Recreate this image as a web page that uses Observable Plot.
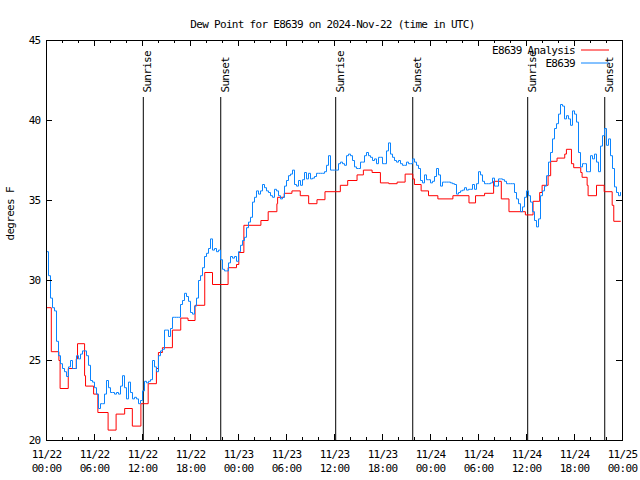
<!DOCTYPE html>
<html><head><meta charset="utf-8">
<script src="https://cdn.jsdelivr.net/npm/d3@7"></script>
<script src="https://cdn.jsdelivr.net/npm/@observablehq/plot@0.6"></script>
<style>
body{margin:0;background:#fff}
svg text{letter-spacing:-0.7px}
</style>
</head><body><div id="chart"></div>
<script>
// ---- data ----
const titleText = "Dew Point for E8639 on 2024-Nov-22 (time in UTC)";
const yLabel = "degrees F";
const seriesNames = ["E8639 Analysis", "E8639"];
const seriesColors = ["#ff0000", "#0a84ff"];
const startUTC = [2024, 10, 22];           // 11/22 00:00 UTC
const obsStepHours = 0.25;                 // observations every 15 minutes
const obsValues = [
  31.8, 30.3, 28.9, 28.3, 28.1, 26.2, 25.3, 24.8, 24.5, 24.3, 24.0, 24.6, 25.0,
  24.5, 24.5, 25.3, 25.1, 25.4, 25.6, 25.6, 25.3, 24.7, 23.75, 23.65, 23.3, 22.9,
  22.0, 22.3, 22.3, 22.9, 23.75, 23.3, 23.0, 23.0, 22.9, 23.0, 22.9, 23.4, 24.05,
  23.3, 22.6, 23.65, 23.0, 22.6, 22.7, 22.6, 22.3, 22.5, 23.1,
  23.7, 23.6, 23.7, 23.8, 25.0, 24.6, 24.3, 25.3, 25.6, 25.7, 26.9, 26.9, 26.5, 27.0,
  27.7, 27.7, 27.7, 27.7, 28.5, 28.75, 29.2, 29.0, 28.7, 28.0, 27.9, 28.4, 28.9, 30.0,
  30.3, 30.8, 31.5, 31.7, 32.0, 32.6, 31.9, 32.0, 31.8, 31.9, 31.3, 30.7, 30.6, 30.6,
  31.1, 31.5, 31.4, 31.5, 31.2, 31.8,
  32.2, 32.5, 32.7, 33.3, 33.65, 33.95, 34.9, 35.2, 35.6, 35.4, 35.6, 36.0, 35.8, 35.6,
  35.5, 35.3, 35.2, 35.7, 35.6, 35.3, 35.1, 35.2, 35.9, 36.25, 36.55, 36.65, 36.9, 36.0,
  35.9, 36.25, 35.95, 36.3, 36.75, 36.35, 36.7, 36.35, 36.4, 36.5, 36.7, 36.7, 36.7,
  36.7, 36.8, 37.2, 37.8, 36.9, 36.9,
  36.9, 36.9, 37.3, 37.4, 37.3, 37.2, 37.8, 37.9, 37.8, 37.5, 37.1, 37.0, 37.0, 37.4,
  37.4, 37.8, 38.0, 37.8, 37.7, 37.5, 37.6, 37.3, 37.7, 37.7, 37.3, 37.3, 38.1, 38.6,
  37.9, 37.7, 37.5, 37.4, 37.5, 37.3, 37.2, 37.2, 37.4, 37.3, 37.3, 37.6, 37.4, 37.2,
  37.0, 36.25, 36.1, 36.6,
  36.3, 36.3, 36.1, 36.2, 36.5, 37.0, 36.6, 35.9, 36.15, 36.15, 36.15, 36.15, 36.1,
  36.05, 36.0, 35.4, 35.5, 35.6, 35.65, 35.8, 35.65, 35.7, 35.7, 36.0, 35.7, 36.05,
  36.8, 36.6, 36.2, 36.05, 36.05, 36.05, 36.1, 36.4, 35.9, 35.9, 36.35, 36.35, 36.3,
  36.2, 36.05, 36.05, 36.05, 36.05, 35.5, 35.1, 34.8, 34.3,
  34.6, 35.2, 35.6, 35.3, 34.9, 34.3, 33.75, 33.35, 33.85, 35.3, 35.6, 35.9, 36.55,
  37.4, 38.0, 38.85, 39.5, 39.8, 40.4, 41.0, 40.9, 40.1, 40.3, 40.1, 39.7, 40.6, 40.4,
  39.9, 38.0, 37.1, 37.3, 37.3, 36.8, 36.8, 37.8, 37.6, 37.9, 37.4, 36.8, 38.4, 39.05,
  39.5, 38.45, 38.85, 37.8, 37.0, 35.85, 35.5, 35.3, 35.5
];
const anaHours = [0, 0.6, 1.55, 1.7, 2.72, 3.72, 3.88, 4.76, 4.88, 5.89, 6.42, 7.7, 8.7,
  9.77, 10.73, 11.8, 12.71, 13.74, 13.99, 14.49, 15.74, 16.78, 17.69, 18.57, 19.78, 20.75,
  22.7, 23.75, 24.04, 24.67, 26.8, 27.71, 28.8, 28.89, 29.71, 30.68, 31.72, 32.77, 33.81,
  34.81, 36.73, 37.65, 38.82, 39.61, 40.7, 41.74, 42.79, 43.83, 44.83, 45.79, 45.99, 46.83,
  47.75, 48.92, 50.8, 52.81, 53.63, 54.76, 55.89, 56.85, 57.81, 59.86, 60.82, 61.65, 61.95,
  62.7, 63.02, 63.82, 64.78, 64.99, 65.62, 65.9, 66.78, 66.95, 67.58, 67.7, 68.75, 69.71,
  70.71, 70.91, 71.75];
const anaValues = [28.3, 25.55, 25.0, 23.25, 24.5, 25.1, 26.05, 24.05, 23.4, 22.9, 21.75,
  20.65, 21.65, 22.0, 20.9, 22.3, 23.55, 24.5, 25.5, 25.8, 26.9, 27.65, 27.5, 28.45, 30.5,
  29.75, 30.8, 31.0, 31.75, 33.45, 33.75, 34.3, 34.8, 35.2, 35.45, 35.6, 35.3, 34.8, 35.05,
  35.55, 35.95, 36.25, 36.6, 36.9, 36.75, 36.1, 36.05, 36.15, 36.65, 36.35, 36.0, 35.6,
  35.3, 35.1, 35.3, 34.85, 35.3, 35.45, 36.2, 35.1, 34.3, 34.1, 34.95, 35.5, 35.95, 36.55,
  37.45, 37.65, 37.9, 38.2, 37.3, 37.05, 36.75, 36.45, 35.95, 35.3, 35.95, 35.55, 34.7,
  33.7, 33.7];
const sunHours = [12.1, 21.78, 36.15, 45.78, 60.15, 69.78];
const sunLabels = ["Sunrise", "Sunset", "Sunrise", "Sunset", "Sunrise", "Sunset"];
const yTicks = [20, 25, 30, 35, 40, 45];
const xMajorHours = [0, 6, 12, 18, 24, 30, 36, 42, 48, 54, 60, 66, 72];
const xMinorHours = [2, 4, 8, 10, 14, 16, 20, 22, 26, 28, 32, 34, 38, 40, 44, 46, 50, 52, 56, 58, 62, 64, 68, 70];

// ---- build ----
const T0 = Date.UTC(...startUTC);
const toDate = h => new Date(T0 + h * 3600e3);
const obs = obsValues.map((v, i) => ({date: toDate(i * obsStepHours), value: v}));
const ana = anaHours.map((h, i) => ({date: toDate(h), value: anaValues[i]}));
const sun = sunHours.map((h, i) => ({date: toDate(h), label: sunLabels[i]}));
const xMajor = xMajorHours.map(toDate);
const xMinor = xMinorHours.map(toDate);
const fmt = d3.utcFormat("%m/%d\n%H:%M");

const W = 640, H = 480, ML = 46, MR = 18, MT = 40, MB = 40;
const FW = W - ML - MR, FH = H - MT - MB;

function legend() {
  const g = d3.create("svg:g");
  seriesNames.forEach((name, i) => {
    const y = 50 + i * 13;
    g.append("text").attr("x", W - MR - 47).attr("y", y).attr("dy", "0.35em")
      .attr("text-anchor", "end").attr("fill", "black").text(name);
    g.append("line").attr("x1", W - MR - 41).attr("x2", W - MR - 13)
      .attr("y1", y).attr("y2", y).attr("stroke", seriesColors[i]).attr("stroke-width", 1);
  });
  return g.node();
}

const chart = Plot.plot({
  width: W, height: H,
  marginLeft: ML, marginRight: MR, marginTop: MT, marginBottom: MB,
  style: {fontFamily: "'DejaVu Sans Mono', monospace", fontSize: "11px", color: "black", background: "white", overflow: "visible"},
  x: {type: "utc", domain: [toDate(0), toDate(72)], axis: null},
  y: {domain: [20, 45], axis: null},
  marks: [
    Plot.ruleX(sun, {x: "date", insetTop: 57, stroke: "black"}),
    Plot.text(sun, {x: "date", text: "label", frameAnchor: "top", dy: 52, rotate: -90, textAnchor: "start", fill: "black"}),
    Plot.line(ana, {x: "date", y: "value", stroke: seriesColors[0], strokeWidth: 1, curve: "step-after"}),
    Plot.line(obs, {x: "date", y: "value", stroke: seriesColors[1], strokeWidth: 1, curve: "step-after"}),
    Plot.frame({stroke: "black"}),
    Plot.ruleX(xMajor, {x: d => d, insetTop: FH - 6, stroke: "black"}),
    Plot.ruleX(xMajor, {x: d => d, insetBottom: FH - 6, stroke: "black"}),
    Plot.ruleX(xMinor, {x: d => d, insetTop: FH - 3, stroke: "black"}),
    Plot.ruleX(xMinor, {x: d => d, insetBottom: FH - 3, stroke: "black"}),
    Plot.ruleY(yTicks, {y: d => d, insetRight: FW - 6, stroke: "black"}),
    Plot.ruleY(yTicks, {y: d => d, insetLeft: FW - 6, stroke: "black"}),
    Plot.text(xMajor, {x: d => d, text: d => fmt(d), frameAnchor: "bottom", lineAnchor: "top", dy: 8, lineHeight: 1.27, fill: "black"}),
    Plot.text(yTicks, {y: d => d, text: d => String(d), frameAnchor: "left", textAnchor: "end", dx: -6, fill: "black"}),
    Plot.text([titleText], {text: d => d, frameAnchor: "top", dy: -20, dx: -2, fill: "black"}),
    Plot.text([yLabel], {text: d => d, frameAnchor: "left", dx: -36, rotate: -90, fill: "black"}),
    legend
  ]
});
document.getElementById("chart").appendChild(chart);
</script>
</body></html>
